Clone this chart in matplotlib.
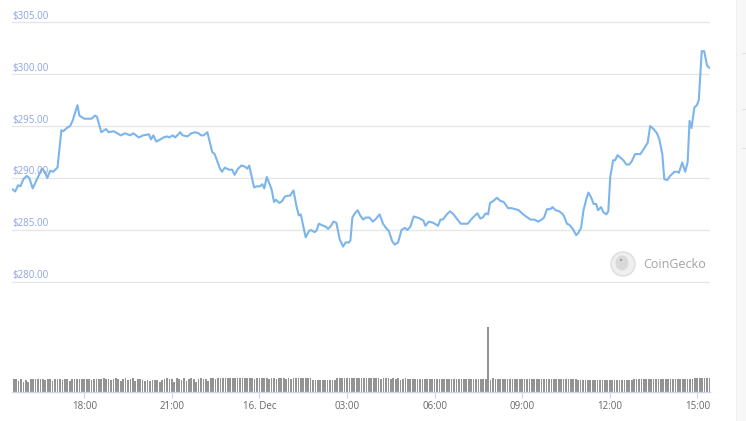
import matplotlib
matplotlib.use("Agg")
import matplotlib.pyplot as plt
import matplotlib.dates as mdates
import matplotlib.transforms as mtransforms
from matplotlib.patches import Ellipse, Rectangle
from matplotlib.lines import Line2D
import pandas as pd

# price readings, 15-16 Dec
times_dec15 = [
    "15:33", "15:38", "15:44", "15:49", "15:55", "16:02", "16:07", "16:14", "16:21", "16:28",
    "16:33", "16:39", "16:44", "16:50", "16:56", "17:05", "17:13", "17:17", "17:24", "17:31",
    "17:36", "17:46", "17:50", "18:00", "18:06", "18:15", "18:22", "18:26", "18:35", "18:41",
    "18:45", "18:50", "19:00", "19:08", "19:15", "19:24", "19:34", "19:41", "19:52", "20:01",
    "20:13", "20:17", "20:22", "20:28", "20:36", "20:43", "20:50", "20:55", "21:02", "21:07",
    "21:17", "21:22", "21:32", "21:40", "21:48", "21:55", "22:00", "22:05", "22:13", "22:23",
    "22:28", "22:39", "22:43", "22:49", "22:57", "23:04", "23:09", "23:16", "23:23", "23:30",
    "23:35", "23:39", "23:49", "23:55",
]
times_dec16 = [
    "00:01", "00:06", "00:10", "00:15", "00:21", "00:25", "00:30", "00:34", "00:41", "00:47",
    "00:52", "00:58", "01:03", "01:10", "01:16", "01:21", "01:25", "01:35", "01:42", "01:46",
    "01:53", "01:57", "02:02", "02:12", "02:17", "02:21", "02:27", "02:32", "02:38", "02:45",
    "02:52", "02:57", "03:04", "03:07", "03:11", "03:16", "03:22", "03:27", "03:33", "03:39",
    "03:46", "03:53", "04:00", "04:07", "04:14", "04:20", "04:26", "04:33", "04:38", "04:45",
    "04:52", "04:59", "05:04", "05:10", "05:17", "05:24", "05:30", "05:37", "05:41", "05:48",
    "05:57", "06:07", "06:12", "06:17", "06:25", "06:32", "06:39", "06:47", "06:54", "07:01",
    "07:08", "07:15", "07:21", "07:28", "07:34", "07:39", "07:45", "07:50", "07:54", "08:01",
    "08:08", "08:15", "08:22", "08:31", "08:38", "08:46", "08:53", "09:02", "09:08", "09:17",
    "09:25", "09:33", "09:40", "09:45", "09:51", "09:58", "10:02", "10:09", "10:16", "10:24",
    "10:28", "10:32", "10:37", "10:44", "10:51", "10:55", "11:01", "11:06", "11:12", "11:16",
    "11:21", "11:27", "11:32", "11:36", "11:42", "11:47", "11:53", "11:57", "12:01", "12:07",
    "12:11", "12:16", "12:23", "12:28", "12:34", "12:40", "12:45", "12:52", "12:57", "13:03",
    "13:10", "13:18", "13:23", "13:30", "13:37", "13:42", "13:48", "13:52", "13:58", "14:04",
    "14:13", "14:19", "14:22", "14:29", "14:35", "14:40", "14:44", "14:48", "14:54", "14:59",
    "15:03", "15:09", "15:14", "15:20", "15:25",
]
prices = [
    288.9, 288.7, 289.3, 289.2, 289.9, 290.2, 290.0, 289.0, 289.7, 290.4,
    290.9, 290.6, 290.0, 290.7, 290.6, 291.0, 294.6, 294.5, 294.8, 295.0,
    295.5, 297.0, 296.0, 295.7, 295.7, 295.7, 296.0, 295.9, 294.4, 294.6,
    294.7, 294.4, 294.5, 294.3, 294.1, 294.3, 294.1, 294.3, 293.9, 294.1,
    294.2, 293.7, 294.1, 293.5, 293.7, 293.9, 294.0, 293.9, 294.1, 293.9,
    294.4, 294.1, 294.0, 294.3, 294.4, 294.3, 294.1, 294.1, 294.4, 292.5,
    292.3, 290.9, 290.6, 291.0, 290.8, 290.8, 290.3, 290.9, 291.2, 291.1,
    290.9, 291.2, 289.1, 289.2,
    289.2, 289.4, 289.0, 290.1, 289.4, 288.9, 287.7, 287.9, 287.6, 287.8,
    288.2, 288.3, 288.3, 288.8, 287.3, 286.4, 286.5, 284.3, 284.9, 285.0,
    284.8, 284.9, 285.6, 285.4, 285.3, 285.1, 285.4, 285.8, 285.7, 284.1,
    283.4, 283.8, 283.8, 284.0, 286.2, 286.6, 286.9, 286.4, 286.0, 286.2,
    286.2, 285.8, 286.1, 286.5, 285.6, 285.2, 284.9, 283.9, 283.6, 283.8,
    285.0, 285.2, 285.0, 285.3, 286.3, 286.2, 286.1, 285.9, 285.4, 285.8,
    285.7, 285.4, 286.0, 286.0, 286.5, 286.8, 286.5, 286.0, 285.6, 285.6,
    285.6, 286.0, 286.3, 286.6, 286.1, 286.2, 286.6, 286.5, 287.6, 287.8,
    288.1, 287.8, 287.7, 287.1, 287.1, 287.0, 286.9, 286.5, 286.3, 286.0,
    286.0, 285.8, 286.0, 286.2, 287.0, 287.0, 287.2, 286.9, 286.8, 286.5,
    286.1, 285.6, 285.5, 285.1, 284.5, 284.7, 285.2, 286.9, 288.0, 288.6,
    288.2, 287.5, 287.5, 286.9, 287.2, 286.7, 286.5, 286.8, 290.1, 291.7,
    291.7, 292.2, 291.9, 291.7, 291.3, 291.3, 291.6, 292.3, 292.3, 292.3,
    292.8, 293.4, 295.0, 294.7, 294.3, 293.7, 292.3, 289.9, 289.8, 290.2,
    290.6, 290.6, 290.5, 291.5, 290.6, 291.5, 295.5, 294.8, 296.8, 297.0,
    297.5, 302.2, 302.2, 300.8, 300.6,
]

# 5-minute volume bars, first bar 15:35 on 15 Dec
volume_start = "2017-12-15 15:35"
volume = [
    13, 13, 11, 13, 10.5,
    12.5, 10.5, 13, 13.5, 13, 13, 13, 13, 12.5, 13, 13, 11,
    13, 13, 13, 12.5, 13.5, 13, 11, 13, 13.5, 13, 13, 13,
    13.5, 13, 13.5, 12, 13.5, 13.5, 13.5, 13, 14, 13.5, 13.5, 12,
    13.5, 14, 13.5, 11, 13.5, 14, 12, 13.5, 14, 11, 13, 13.5,
    12, 11, 12, 11.5, 12, 12, 12, 10, 12.5, 13, 14, 13.5,
    13, 10.5, 14, 13.5, 12.5, 14, 11, 13.5, 14, 13.5, 10.5, 13.5,
    14, 13.5, 13, 11, 14, 14, 13.5, 14, 14, 14, 14, 14,
    14, 14, 14, 14, 14, 14, 14, 14, 14, 14, 13.5, 14,
    14, 14, 14, 14, 13.5, 14, 14, 13.5, 14, 14, 14, 13.5,
    14, 13, 14, 14, 14, 14, 14, 14, 14, 14, 12.5, 12.5,
    12.5, 12.5, 12.5, 12.5, 12.5, 12.5, 12.5, 12.5, 14, 14, 14, 14,
    14, 14, 14, 14, 14, 14, 14, 14, 14, 14, 14, 14,
    14, 14, 13.5, 14, 14, 14, 13, 14, 13.5, 14, 12.5, 13.5,
    14, 13, 13, 13, 13, 13, 13, 13, 13, 13, 13, 13,
    13, 13, 13, 13, 13, 13, 13, 13, 13, 13, 13, 13,
    13, 13, 13, 13, 13, 13, 13, 13, 13, 13, 65, 12.5,
    14, 13, 13, 13, 13, 13, 13, 13, 13, 13, 13, 13,
    13, 13, 13, 13, 13, 13, 13, 13, 13, 13, 13, 13,
    13, 13, 13, 13, 13, 13, 13, 13, 13, 13.5, 13, 12.5,
    12.5, 12, 12, 12, 12, 12, 12, 12, 12.5, 12, 12, 12,
    12, 12, 12, 12, 12.5, 12, 12.5, 12.5, 12.5, 12.5, 13, 13,
    13, 13, 13, 13, 13, 13, 13, 13, 13, 13, 13, 13,
    13, 13, 13, 13, 13, 13, 13, 13, 13, 13, 13, 14,
    14, 14, 14, 14, 14, 14,
]

price_ticks = [280, 285, 290, 295, 300, 305]
time_ticks = ["2017-12-15 18:00", "2017-12-15 21:00", "2017-12-16 00:00", "2017-12-16 03:00",
              "2017-12-16 06:00", "2017-12-16 09:00", "2017-12-16 12:00", "2017-12-16 15:00"]
time_labels = ["18:00", "21:00", "16. Dec", "03:00", "06:00", "09:00", "12:00", "15:00"]

LINE_COLOR = "#7cb5ec"
GRID_COLOR = "#e6e6e6"
AXIS_COLOR = "#ccd6eb"

plt.rcParams["font.family"] = ["Open Sans", "DejaVu Sans"]

W, H = 746, 421


def fx(px):
    return px / W


def fy(py):
    return 1 - py / H


price_times = pd.to_datetime(["2017-12-15 " + t for t in times_dec15] +
                             ["2017-12-16 " + t for t in times_dec16])
vol_times = pd.date_range(volume_start, periods=len(volume), freq="5min")
x_left = pd.Timestamp("2017-12-15 15:31:30")
x_right = pd.Timestamp("2017-12-16 15:26")

fig = plt.figure(figsize=(W / 100, H / 100), dpi=100)

# price panel
ax = fig.add_axes([fx(12), fy(292.36), fx(698), 280.72 / H])
ax.plot(price_times, prices, color=LINE_COLOR, lw=1.5, solid_joinstyle="round", zorder=3)
ax.set_xlim(x_left, x_right)
ax.set_ylim(279, 306)
ax.set_yticks(price_ticks)
ax.yaxis.grid(True, color=GRID_COLOR, lw=1)
ax.tick_params(left=False, bottom=False, labelleft=False, labelbottom=False)
for s in ax.spines.values():
    s.set_visible(False)

lab_trans = mtransforms.offset_copy(ax.get_yaxis_transform(), fig=fig, x=0.5, y=3.5, units="dots")
for v in price_ticks:
    ax.text(0, v, f"${v:.2f}", transform=lab_trans, ha="left", va="baseline",
            fontsize=7, color="#8aa4e4", zorder=4)

# volume panel
axv = fig.add_axes([fx(12), fy(392), fx(698), 70 / H])
axv.bar(vol_times, volume, width=5 / 1440 * 0.7, color="#939393", linewidth=0)
axv.set_xlim(x_left, x_right)
axv.set_ylim(0, 70)
axv.set_yticks([])
for k in ["top", "left", "right"]:
    axv.spines[k].set_visible(False)
axv.spines["bottom"].set_color(AXIS_COLOR)
axv.spines["bottom"].set_linewidth(1)
axv.set_xticks(pd.to_datetime(time_ticks))
axv.set_xticklabels(time_labels)
axv.tick_params(axis="x", length=4, width=0.8, color=AXIS_COLOR, labelcolor="#666666",
                labelsize=7, pad=2.5)

# CoinGecko watermark
fig.add_artist(Ellipse((fx(623), fy(264)), 24 / W, 24 / H, transform=fig.transFigure,
                       facecolor="#efefef", edgecolor="#dddddd", lw=1))
fig.add_artist(Ellipse((fx(622), fy(263)), 13 / W, 15 / H, transform=fig.transFigure,
                       facecolor="#d9d9d9", edgecolor="none"))
fig.add_artist(Ellipse((fx(621), fy(260)), 2 / W, 2 / H, transform=fig.transFigure,
                       facecolor="#888888", edgecolor="none"))
fig.text(fx(643), fy(264), "CoinGecko", ha="left", va="center", fontsize=9, color="#a3a3a3")

# page strip on the right
fig.add_artist(Rectangle((fx(736), 0), fx(10), 1, transform=fig.transFigure,
                         facecolor="#f7f7f7", edgecolor="none"))
fig.add_artist(Line2D([fx(736), fx(736)], [0, 1], transform=fig.transFigure, color="#efefef", lw=0.75))
for py in [53, 109, 148]:
    fig.add_artist(Line2D([fx(742), fx(746)], [fy(py), fy(py)], transform=fig.transFigure,
                          color="#e2e2e2", lw=0.75))

fig.savefig("out.png", dpi=100)
